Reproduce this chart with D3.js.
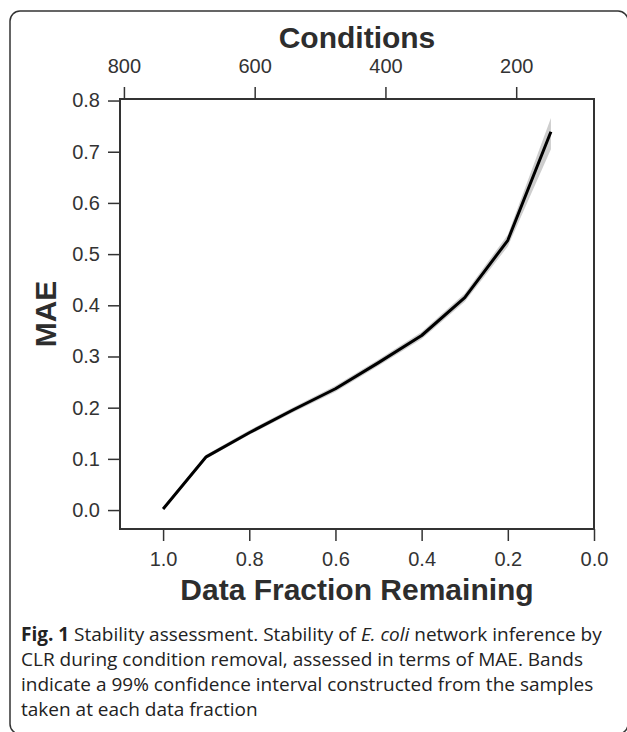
<!DOCTYPE html>
<html>
<head>
<meta charset="utf-8">
<script src="https://cdn.jsdelivr.net/npm/d3@7"></script>
<style>
  body { margin: 0; background: #fff; }
  svg { display: block; }
  .tick text { font-family: "Liberation Sans", Arial, sans-serif; font-size: 20px; fill: #333; }
  .tick line { stroke: #333; stroke-width: 1.5px; }
  .title { font-family: "Liberation Sans", Arial, sans-serif; font-weight: bold; font-size: 30px; fill: #2d2d2d; }
  .caption { font-family: "Open Sans", sans-serif; font-size: 19px; fill: #222; }
</style>
</head>
<body>
<div id="chart"></div>
<script>
// data
const fractions = [1.0, 0.9, 0.8, 0.7, 0.6, 0.5, 0.4, 0.3, 0.2, 0.1]
const mae      = [0.002, 0.104, 0.151, 0.195, 0.237, 0.288, 0.341, 0.415, 0.527, 0.739]
const maeLow   = [0.000, 0.100, 0.147, 0.190, 0.231, 0.282, 0.334, 0.407, 0.515, 0.705]
const maeHigh  = [0.004, 0.108, 0.156, 0.200, 0.243, 0.294, 0.348, 0.423, 0.538, 0.766]

const yTicks = [0, 0.1, 0.2, 0.3, 0.4, 0.5, 0.6, 0.7, 0.8]
const xTicks = [1.0, 0.8, 0.6, 0.4, 0.2, 0.0]
const conditionTicks = [800, 600, 400, 200]
const conditionDomain = [806, 81]

const captionLines = [
  [["Fig. 1", "bold"], [" Stability assessment. Stability of ", ""], ["E. coli", "italic"], [" network inference by", ""]],
  [["CLR during condition removal, assessed in terms of MAE. Bands", ""]],
  [["indicate a 99% confidence interval constructed from the samples", ""]],
  [["taken at each data fraction", ""]]
]

var W = 627, H = 732
var plot = {left: 120, right: 594, top: 99, bottom: 529}

var svg = d3.select("#chart").append("svg")
    .attr("width", W)
    .attr("height", H)

// outer figure border
svg.append("rect")
    .attr("x", 10).attr("y", 11)
    .attr("width", 618).attr("height", 723)
    .attr("rx", 10)
    .attr("fill", "none")
    .attr("stroke", "#333")
    .attr("stroke-width", 1.5)

var x = d3.scaleLinear().domain([1.1, 0]).range([plot.left, plot.right])
var xTop = d3.scaleLinear().domain(conditionDomain).range([plot.left, plot.right])
var y = d3.scaleLinear().domain([-0.037, 0.803]).range([plot.bottom, plot.top])

var data = fractions.map((f, i) => ({f: f, v: mae[i], lo: maeLow[i], hi: maeHigh[i]}))

var band = d3.area()
    .x(d => x(d.f))
    .y0(d => y(d.lo))
    .y1(d => y(d.hi))

var line = d3.line()
    .x(d => x(d.f))
    .y(d => y(d.v))

svg.append("path")
    .attr("d", band(data))
    .attr("fill", "#c4c4c4")
    .attr("opacity", 0.85)

svg.append("path")
    .attr("d", line(data))
    .attr("fill", "none")
    .attr("stroke", "#000")
    .attr("stroke-width", 3)
    .attr("stroke-linejoin", "round")

// axes
svg.append("g")
    .attr("transform", "translate(" + plot.left + ",0)")
    .call(d3.axisLeft(y).tickValues(yTicks).tickFormat(d3.format(".1f")).tickSize(12).tickPadding(8))
    .call(g => g.select(".domain").remove())

svg.append("g")
    .attr("transform", "translate(0," + plot.bottom + ")")
    .call(d3.axisBottom(x).tickValues(xTicks).tickFormat(d3.format(".1f")).tickSize(12).tickPadding(11))
    .call(g => g.select(".domain").remove())

svg.append("g")
    .attr("transform", "translate(0," + plot.top + ")")
    .call(d3.axisTop(xTop).tickValues(conditionTicks).tickSize(12).tickPadding(14))
    .call(g => g.select(".domain").remove())

// plot frame
svg.append("rect")
    .attr("x", plot.left).attr("y", plot.top)
    .attr("width", plot.right - plot.left)
    .attr("height", plot.bottom - plot.top)
    .attr("fill", "none")
    .attr("stroke", "#333")
    .attr("stroke-width", 2)

// titles
svg.append("text").attr("class", "title")
    .attr("x", (plot.left + plot.right) / 2).attr("y", 48)
    .attr("text-anchor", "middle")
    .text("Conditions")

svg.append("text").attr("class", "title")
    .attr("x", (plot.left + plot.right) / 2).attr("y", 600)
    .attr("text-anchor", "middle")
    .text("Data Fraction Remaining")

svg.append("text").attr("class", "title")
    .attr("transform", "translate(56," + (plot.top + plot.bottom) / 2 + ") rotate(-90)")
    .attr("text-anchor", "middle")
    .text("MAE")

// caption
var cap = svg.append("text").attr("class", "caption")
captionLines.forEach((parts, i) => {
  parts.forEach((p, j) => {
    var t = cap.append("tspan").text(p[0])
    if (j === 0) t.attr("x", 21).attr("y", 641 + i * 25)
    if (p[1] === "bold") t.attr("font-weight", "bold")
    if (p[1] === "italic") t.attr("font-style", "italic")
  })
})
</script>
</body>
</html>
